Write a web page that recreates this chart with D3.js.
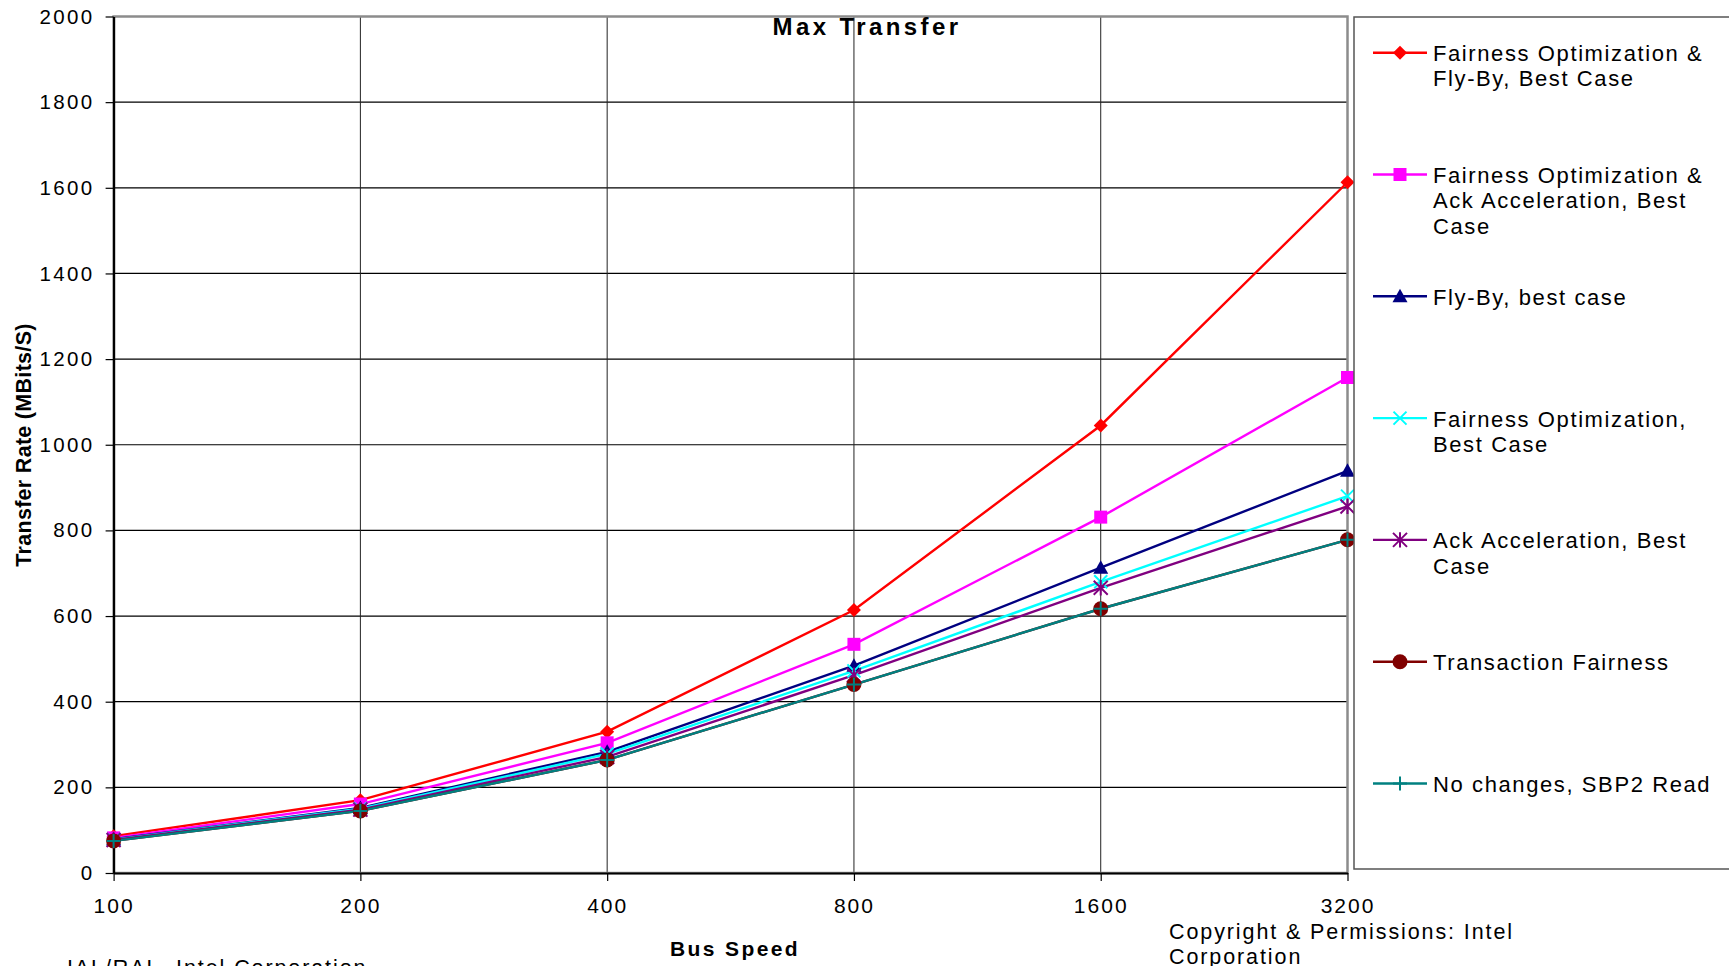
<!DOCTYPE html>
<html>
<head>
<meta charset="utf-8">
<script src="https://cdn.jsdelivr.net/npm/d3@7"></script>
<style>
    body { margin: 0; background: #fff; }
    svg { display: block; font-family: 'Liberation Sans', Arial, sans-serif; }
</style>
</head>
<body>
<div id="chart-holder"></div>
<script>

// Chart data
const busSpeeds = ['100', '200', '400', '800', '1600', '3200'];
const yTicks = [0, 200, 400, 600, 800, 1000, 1200, 1400, 1600, 1800, 2000];

const fairFlyBy    = [86, 170, 330, 614, 1045, 1613];
const fairAckAccel = [82, 161, 304, 534, 831, 1157];
const flyBy        = [79, 152, 283, 484, 713, 939];
const fairOpt      = [78, 150, 278, 472, 680, 880];
const ackAccel     = [77, 148, 271, 462, 666, 856];
const transFair    = [75, 145, 264, 440, 617, 778];
const noChanges    = [75, 145, 264, 440, 617, 778];

const seriesNames = [
    ['Fairness Optimization &', 'Fly-By, Best Case'],
    ['Fairness Optimization &', 'Ack Acceleration, Best', 'Case'],
    ['Fly-By, best case'],
    ['Fairness Optimization,', 'Best Case'],
    ['Ack Acceleration, Best', 'Case'],
    ['Transaction Fairness'],
    ['No changes, SBP2 Read']
];
const seriesValues = [fairFlyBy, fairAckAccel, flyBy, fairOpt, ackAccel, transFair, noChanges];
const seriesColors = ['#ff0000', '#ff00ff', '#000080', '#00ffff', '#800080', '#800000', '#008080'];
const seriesMarkers = ['diamond', 'square', 'triangle', 'x', 'star', 'circle', 'plus'];

const width = 1729, height = 966;
const plot = { left: 113.6, right: 1347.5, top: 16.5, bottom: 873 };

// Excel style markers, size = half width in px
const markerTypes = {
    diamond:  { fill: true,  draw: (c, r) => { c.moveTo(0, -r); c.lineTo(r, 0); c.lineTo(0, r); c.lineTo(-r, 0); c.closePath(); } },
    square:   { fill: true,  draw: (c, r) => { c.rect(-r, -r, 2 * r, 2 * r); } },
    triangle: { fill: true,  draw: (c, r) => { c.moveTo(0, -r); c.lineTo(r, r * 0.8); c.lineTo(-r, r * 0.8); c.closePath(); } },
    circle:   { fill: true,  draw: (c, r) => { c.moveTo(r, 0); c.arc(0, 0, r, 0, 2 * Math.PI); } },
    x:        { fill: false, draw: (c, r) => { c.moveTo(-r, -r); c.lineTo(r, r); c.moveTo(-r, r); c.lineTo(r, -r); } },
    plus:     { fill: false, draw: (c, r) => { c.moveTo(-r, 0); c.lineTo(r, 0); c.moveTo(0, -r); c.lineTo(0, r); } },
    star:     { fill: false, draw: (c, r) => {
        c.moveTo(-r, -r); c.lineTo(r, r); c.moveTo(-r, r); c.lineTo(r, -r);
        c.moveTo(0, -r * 1.1); c.lineTo(0, r * 1.1);
    } }
};
const markerSize = { diamond: 7, square: 6.5, triangle: 7.5, circle: 7.5, x: 6.5, plus: 7, star: 7 };

function markerPath(name) {
    return d3.symbol().type(markerTypes[name]).size(markerSize[name])();
}

var svg = d3.select('#chart-holder')
    .append('svg')
    .attr('width', width)
    .attr('height', height);

var x = d3.scalePoint()
    .domain(busSpeeds)
    .range([plot.left, plot.right]);

var y = d3.scaleLinear()
    .domain([0, 2000])
    .range([plot.bottom, plot.top]);

// Gridlines
var grid = svg.append('g');

grid.selectAll('.h-grid')
    .data(yTicks.slice(1, -1))
    .join('line')
    .classed('h-grid', true)
    .attr('x1', plot.left)
    .attr('x2', plot.right)
    .attr('y1', d => y(d))
    .attr('y2', d => y(d))
    .attr('stroke', '#000')
    .attr('stroke-width', 1.2);

grid.selectAll('.v-grid')
    .data(busSpeeds.slice(1, -1))
    .join('line')
    .classed('v-grid', true)
    .attr('x1', d => x(d))
    .attr('x2', d => x(d))
    .attr('y1', plot.top)
    .attr('y2', plot.bottom)
    .attr('stroke', '#222')
    .attr('stroke-width', 1);

// plot area border (grey), axes drawn over it
grid.append('rect')
    .attr('x', plot.left)
    .attr('y', plot.top)
    .attr('width', plot.right - plot.left)
    .attr('height', plot.bottom - plot.top)
    .attr('fill', 'none')
    .attr('stroke', '#8c8c8c')
    .attr('stroke-width', 2.5);

// Axes
var yAxis = svg.append('g')
    .attr('transform', `translate(${plot.left},0)`)
    .call(d3.axisLeft(y).tickValues(yTicks).tickFormat(d3.format('d'))
        .tickSize(8).tickPadding(11).tickSizeOuter(0));

var xAxis = svg.append('g')
    .attr('transform', `translate(0,${plot.bottom})`)
    .call(d3.axisBottom(x).tickSize(8).tickPadding(17).tickSizeOuter(0));

yAxis.select('.domain').attr('stroke', '#000').attr('stroke-width', 2.2);
xAxis.select('.domain').attr('stroke', '#000').attr('stroke-width', 2.2);
yAxis.selectAll('.tick line').attr('stroke', '#000').attr('stroke-width', 1.2);
xAxis.selectAll('.tick line').attr('stroke', '#000').attr('stroke-width', 1.2);

yAxis.selectAll('.tick text')
    .attr('font-size', '20.5px')
    .attr('letter-spacing', '2.4px')
    .attr('fill', '#000')
    .attr('font-family', null);

xAxis.selectAll('.tick text')
    .attr('font-size', '21px')
    .attr('letter-spacing', '2px')
    .attr('fill', '#000')
    .attr('font-family', null);

// Series lines
var lineGen = d3.line()
    .x((d, i) => x(busSpeeds[i]))
    .y(d => y(d));

var linesG = svg.append('g');

linesG.selectAll('.series-line')
    .data(seriesValues)
    .join('path')
    .classed('series-line', true)
    .attr('d', d => lineGen(d))
    .attr('fill', 'none')
    .attr('stroke', (d, i) => seriesColors[i])
    .attr('stroke-width', 2.4);

// Markers
var markersG = svg.append('g');

seriesValues.forEach((vals, s) => {
    let m = seriesMarkers[s];
    markersG.append('g')
        .selectAll('path')
        .data(vals)
        .join('path')
        .attr('d', markerPath(m))
        .attr('transform', (d, i) => `translate(${x(busSpeeds[i])},${y(d)})`)
        .attr('fill', markerTypes[m].fill ? seriesColors[s] : 'none')
        .attr('stroke', seriesColors[s])
        .attr('stroke-width', markerTypes[m].fill ? 0 : 2);
});

// Titles
svg.append('text')
    .attr('x', 867)
    .attr('y', 35)
    .attr('text-anchor', 'middle')
    .attr('font-size', '24px')
    .attr('font-weight', 'bold')
    .attr('letter-spacing', '3.4px')
    .text('Max Transfer');

svg.append('text')
    .attr('x', 735)
    .attr('y', 956)
    .attr('text-anchor', 'middle')
    .attr('font-size', '21px')
    .attr('font-weight', 'bold')
    .attr('letter-spacing', '2.4px')
    .text('Bus Speed');

svg.append('text')
    .attr('transform', 'translate(31,445) rotate(-90)')
    .attr('text-anchor', 'middle')
    .attr('font-size', '21.5px')
    .attr('font-weight', 'bold')
    .attr('letter-spacing', '0.3px')
    .text('Transfer Rate (MBits/S)');

// Footer notes
svg.append('text')
    .attr('x', 1169)
    .attr('y', 939)
    .attr('font-size', '21.5px')
    .attr('letter-spacing', '1.9px')
    .text('Copyright & Permissions: Intel');

svg.append('text')
    .attr('x', 1169)
    .attr('y', 964)
    .attr('font-size', '21.5px')
    .attr('letter-spacing', '1.9px')
    .text('Corporation');

svg.append('text')
    .attr('x', 67)
    .attr('y', 975)
    .attr('font-size', '21.5px')
    .attr('letter-spacing', '1.9px')
    .text('IAL/RAL, Intel Corporation');

// Legend
var legendG = svg.append('g');

legendG.append('rect')
    .attr('x', 1354)
    .attr('y', 17)
    .attr('width', 400)
    .attr('height', 852)
    .attr('fill', '#fff')
    .attr('stroke', '#555')
    .attr('stroke-width', 1.5);

var legendRow = 121.8;
var legendItems = legendG.selectAll('.legend-item')
    .data(seriesNames)
    .join('g')
    .classed('legend-item', true)
    .attr('transform', (d, i) => `translate(0,${52.7 + i * legendRow})`);

legendItems.append('line')
    .attr('x1', 1373)
    .attr('x2', 1427)
    .attr('stroke', (d, i) => seriesColors[i])
    .attr('stroke-width', 2.4);

legendItems.append('path')
    .attr('d', (d, i) => markerPath(seriesMarkers[i]))
    .attr('transform', 'translate(1400,0)')
    .attr('fill', (d, i) => markerTypes[seriesMarkers[i]].fill ? seriesColors[i] : 'none')
    .attr('stroke', (d, i) => seriesColors[i])
    .attr('stroke-width', (d, i) => markerTypes[seriesMarkers[i]].fill ? 0 : 2);

legendItems.append('text')
    .attr('x', 1433)
    .attr('y', 8.5)
    .attr('font-size', '22px')
    .attr('letter-spacing', '1.6px')
    .selectAll('tspan')
    .data(d => d)
    .join('tspan')
    .attr('x', 1433)
    .attr('dy', (d, i) => i == 0 ? 0 : 25.3)
    .text(d => d);

</script>
</body>
</html>
